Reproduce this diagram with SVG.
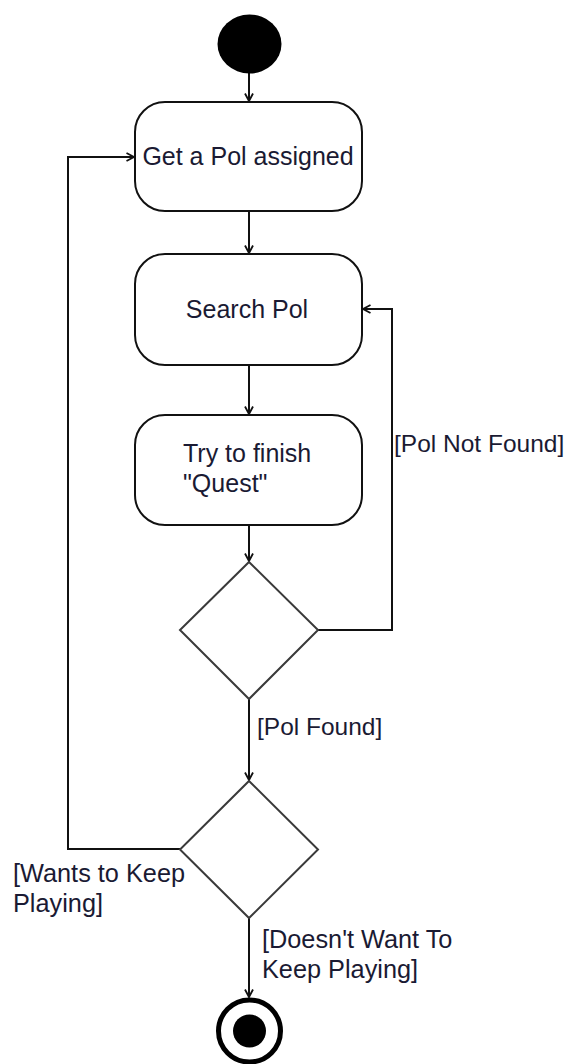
<svg xmlns="http://www.w3.org/2000/svg" width="571" height="1064" viewBox="0 0 571 1064">
  <style>
    .action { fill: #ffffff; stroke: #111111; stroke-width: 2; }
    .decision { fill: #ffffff; stroke: #3a3a3a; stroke-width: 2; }
    .flow { fill: none; stroke: #111111; stroke-width: 2; }
    .label { font-family: "Liberation Sans", Arial, sans-serif; font-size: 24.5px; fill: #1a1a33; }
    .label-wide { font-family: "Liberation Sans", Arial, sans-serif; font-size: 25.3px; fill: #1a1a33; }
    .title { font-family: "Liberation Sans", Arial, sans-serif; font-size: 25px; fill: #1a1a33; }
  </style>
  <defs>
    <marker id="open-arrow" markerUnits="userSpaceOnUse" markerWidth="12" markerHeight="12" refX="9" refY="5" orient="auto">
      <path d="M1.5,1 L9,5 L1.5,9" fill="none" stroke="#111111" stroke-width="1.8"/>
    </marker>
  </defs>
  <rect width="571" height="1064" fill="#ffffff"/>

  <g id="connectors">
    <path class="flow" d="M249,73 L249,101" marker-end="url(#open-arrow)"/>
    <path class="flow" d="M249,211 L249,253" marker-end="url(#open-arrow)"/>
    <path class="flow" d="M249,365 L249,414" marker-end="url(#open-arrow)"/>
    <path class="flow" d="M249,525 L249,561" marker-end="url(#open-arrow)"/>
    <path class="flow" d="M318,630 L392,630 L392,309 L363,309" marker-end="url(#open-arrow)"/>
    <path class="flow" d="M249,699 L249,780" marker-end="url(#open-arrow)"/>
    <path class="flow" d="M180,849 L68,849 L68,157 L134,157" marker-end="url(#open-arrow)"/>
    <path class="flow" d="M249,918 L249,997" marker-end="url(#open-arrow)"/>
    <text class="label" x="394" y="452">[Pol Not Found]</text>
    <text class="label" x="257" y="735">[Pol Found]</text>
    <text class="label-wide" x="13" y="882">[Wants to Keep</text>
    <text class="label-wide" x="13" y="912">Playing]</text>
    <text class="label-wide" x="262" y="948">[Doesn't Want To</text>
    <text class="label-wide" x="262" y="978">Keep Playing]</text>
  </g>

  <g id="start">
    <ellipse cx="249.5" cy="44" rx="32" ry="29.5" fill="#000000"/>
  </g>

  <g id="get-poi">
    <rect class="action" x="135" y="102" width="227" height="109" rx="30" ry="30"/>
    <text class="title" x="248" y="165" text-anchor="middle">Get a Pol assigned</text>
  </g>

  <g id="search-poi">
    <rect class="action" x="135" y="254" width="227" height="111" rx="30" ry="30"/>
    <text class="title" x="247" y="318" text-anchor="middle">Search Pol</text>
  </g>

  <g id="finish-quest">
    <rect class="action" x="135" y="415" width="227" height="110" rx="30" ry="30"/>
    <text class="title" x="183" y="462">Try to finish</text>
    <text class="title" x="183" y="492">"Quest"</text>
  </g>

  <g id="poi-found-decision">
    <polygon class="decision" points="249,562 318,630 249,699 180,630"/>
  </g>

  <g id="keep-playing-decision">
    <polygon class="decision" points="249,781 318,849.5 249,918 180,849.5"/>
  </g>

  <g id="end">
    <circle cx="249.5" cy="1031" r="31" fill="#ffffff" stroke="#000000" stroke-width="5"/>
    <circle cx="249.5" cy="1031" r="16.5" fill="#000000"/>
  </g>
</svg>
